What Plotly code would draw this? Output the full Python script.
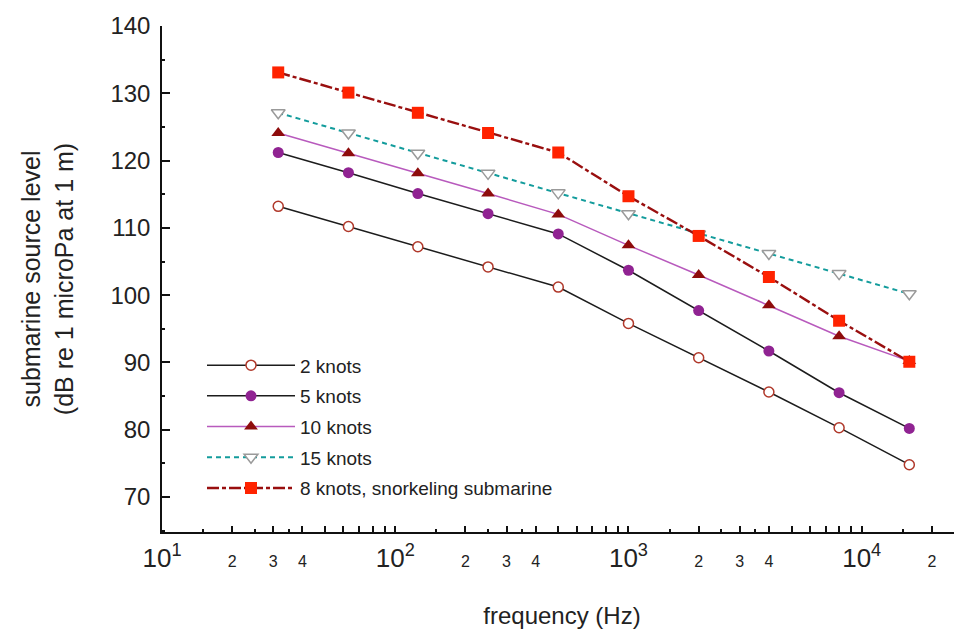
import plotly.graph_objects as go

freq_hz = [31.5, 63, 125, 250, 500, 1000, 2000, 4000, 8000, 16000]

knots_2 = [113.2, 110.2, 107.2, 104.2, 101.2, 95.8, 90.7, 85.6, 80.3, 74.8]
knots_5 = [121.2, 118.2, 115.1, 112.1, 109.1, 103.7, 97.7, 91.7, 85.5, 80.2]
knots_10 = [124.1, 121.1, 118.1, 115.1, 112.0, 107.4, 103.0, 98.5, 93.9, 90.2]
knots_15 = [127.1, 124.1, 121.1, 118.1, 115.2, 112.1, 109.1, 106.2, 103.2, 100.2]
snorkel_8 = [133.1, 130.1, 127.1, 124.1, 121.2, 114.7, 108.8, 102.7, 96.2, 90.1]

series_names = ["2 knots", "5 knots", "10 knots", "15 knots", "8 knots, snorkeling submarine"]

x_major_vals = [10, 20, 30, 40, 50, 60, 70, 80, 90,
                100, 200, 300, 400, 500, 600, 700, 800, 900,
                1000, 2000, 3000, 4000, 5000, 6000, 7000, 8000, 9000,
                10000, 20000]
x_minor_vals = [15, 25, 35, 150, 250, 350, 1500, 2500, 3500, 15000, 25000]


def dec(p):
    return "<span style='font-size:26px'>10<sup>%d</sup></span>" % p


x_major_text = [dec(1), "2", "3", "4", "", "", "", "", "",
                dec(2), "2", "3", "4", "", "", "", "", "",
                dec(3), "2", "3", "4", "", "", "", "", "",
                dec(4), "2"]

y_major_vals = [70, 80, 90, 100, 110, 120, 130, 140]
y_minor_vals = [65, 75, 85, 95, 105, 115, 125, 135]

FONT = "Liberation Sans, Arial, sans-serif"

fig = go.Figure()

fig.add_trace(go.Scatter(
    x=freq_hz, y=knots_2, name=series_names[0], mode="lines+markers",
    line=dict(color="#1c1c1c", width=1.5),
    marker=dict(symbol="circle", size=10, color="white",
                line=dict(color="#b0382a", width=1.5)),
    legendgroup="a"))
fig.add_trace(go.Scatter(
    x=freq_hz, y=knots_5, name=series_names[1], mode="lines+markers",
    line=dict(color="#1c1c1c", width=1.5),
    marker=dict(symbol="circle", size=11, color="#902392",
                line=dict(width=0)),
    legendgroup="b"))
fig.add_trace(go.Scatter(
    x=freq_hz, y=knots_10, name=series_names[2], mode="lines+markers",
    line=dict(color="#b85abd", width=1.5),
    marker=dict(symbol="triangle-up", size=12, color="#8e0c0c",
                line=dict(width=0)),
    legendgroup="c"))
fig.add_trace(go.Scatter(
    x=freq_hz, y=knots_15, name=series_names[3], mode="lines+markers",
    line=dict(color="#139c9c", width=2, dash="5px,4px"),
    marker=dict(symbol="triangle-down", size=12, color="white",
                line=dict(color="#9a9a9a", width=1.5)),
    legendgroup="d"))
fig.add_trace(go.Scatter(
    x=freq_hz, y=snorkel_8, name=series_names[4], mode="lines+markers",
    line=dict(color="#990f0f", width=2.4, dash="12px,3px,4px,3px"),
    marker=dict(symbol="square", size=12, color="#ff2300",
                line=dict(width=0)),
    legendgroup="e"))

fig.update_layout(
    width=954, height=625,
    margin=dict(l=154, r=0, t=18, b=101),
    paper_bgcolor="white", plot_bgcolor="white",
    font=dict(family=FONT, color="#222222"),
    showlegend=True,
    legend=dict(x=0.05, y=0.367, xanchor="left", yanchor="top",
                bgcolor="rgba(0,0,0,0)", borderwidth=0,
                font=dict(size=19, family=FONT, color="#222222"),
                tracegroupgap=3, itemwidth=88),
    xaxis=dict(
        type="log", range=[1, 4.43], automargin=False,
        showline=True, linecolor="#111111", linewidth=1.5,
        showgrid=False, zeroline=False,
        tickmode="array", tickvals=x_major_vals, ticktext=x_major_text,
        ticks="inside", ticklen=6, tickwidth=1.5, tickcolor="#111111",
        tickfont=dict(size=16, family=FONT, color="#222222"),
        ticklabelstandoff=14,
        minor=dict(tickmode="array", tickvals=x_minor_vals,
                   ticks="inside", ticklen=3, tickwidth=1.5,
                   tickcolor="#111111", showgrid=False),
        title=dict(text="frequency (Hz)", font=dict(size=24, family=FONT, color="#222222"),
                   standoff=35),
    ),
    yaxis=dict(
        range=[64.8, 140], automargin=False,
        showline=True, linecolor="#111111", linewidth=1.5,
        showgrid=False, zeroline=False,
        tickmode="array", tickvals=y_major_vals,
        ticks="inside", ticklen=8, tickwidth=1.5, tickcolor="#111111",
        tickfont=dict(size=24, family=FONT, color="#222222"),
        ticklabelstandoff=5,
        minor=dict(tickmode="array", tickvals=y_minor_vals,
                   ticks="inside", ticklen=3, tickwidth=1.5,
                   tickcolor="#111111", showgrid=False),
        title=dict(text="submarine source level<br>(dB re 1 microPa at 1 m)",
                   font=dict(size=25, family=FONT, color="#222222"),
                   standoff=30),
    ),
)

fig.write_html("out.html")
